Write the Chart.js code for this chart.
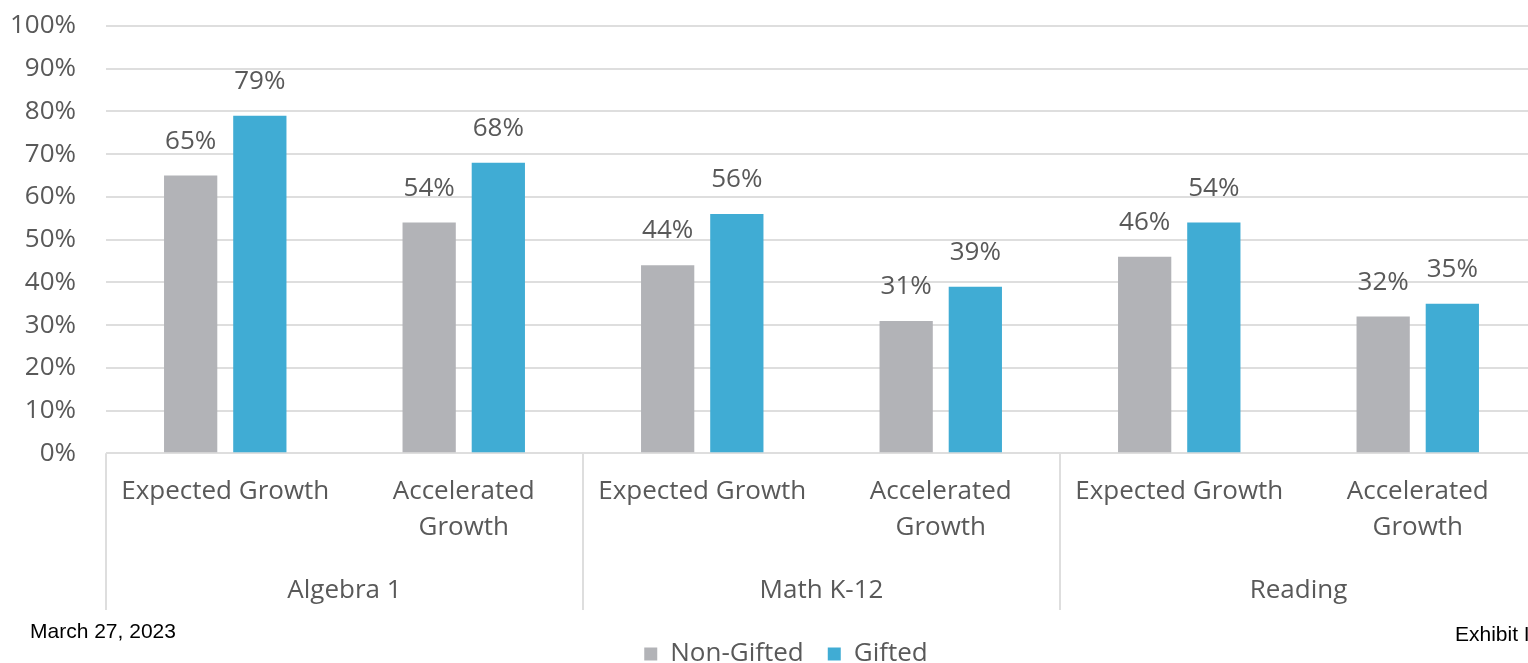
<!DOCTYPE html>
<html>
<head>
<meta charset="utf-8">
<script src="https://cdn.jsdelivr.net/npm/chart.js@4/dist/chart.umd.min.js"></script>
<style>
  html, body { margin: 0; padding: 0; background: #fff; overflow: hidden; }
  #wrap { position: relative; width: 1565px; height: 663px; }
  .note { position: absolute; font-family: "Liberation Sans", Arial, sans-serif; font-size: 21px; color: #000; }
</style>
</head>
<body>
<div id="wrap">
  <canvas id="canvas" width="1565" height="663"></canvas>
  <div class="note" style="left:30px; top:619px;">March 27, 2023</div>
  <div class="note" style="left:1455px; top:622px;">Exhibit I</div>
</div>
<script>
const categories = ['Expected Growth', ['Accelerated', 'Growth'], 'Expected Growth', ['Accelerated', 'Growth'], 'Expected Growth', ['Accelerated', 'Growth']];
const groups = ['Algebra 1', 'Math K-12', 'Reading'];
const nonGifted = [65, 54, 44, 31, 46, 32];
const gifted = [79, 68, 56, 39, 54, 35];

const textColor = '#595959';
const gridColor = '#dedede';
const font = { family: '"Open Sans", sans-serif', size: 26, lineHeight: 1.38 };

// value labels above each bar
const barLabels = {
  id: 'barLabels',
  afterDatasetsDraw(chart) {
    const ctx = chart.ctx;
    ctx.save();
    ctx.font = '26px "Open Sans", sans-serif';
    ctx.fillStyle = textColor;
    ctx.textAlign = 'center';
    ctx.textBaseline = 'alphabetic';
    chart.data.datasets.forEach((ds, i) => {
      chart.getDatasetMeta(i).data.forEach((bar, j) => {
        ctx.fillText(ds.data[j] + '%', bar.x, bar.y - 27);
      });
    });
    ctx.restore();
  }
};

// vertical separators between the subject groups
const groupLines = {
  id: 'groupLines',
  afterDraw(chart) {
    const x = chart.scales.x;
    const half = (x.getPixelForValue(1) - x.getPixelForValue(0)) / 2;
    const ctx = chart.ctx;
    ctx.save();
    ctx.strokeStyle = gridColor;
    ctx.lineWidth = 2;
    for (let g = 0; g <= groups.length; g++) {
      const px = Math.round(x.getPixelForValue(g * 2) - half);
      ctx.beginPath();
      ctx.moveTo(px, chart.chartArea.bottom);
      ctx.lineTo(px, 610);
      ctx.stroke();
    }
    ctx.restore();
  }
};

new Chart(document.getElementById('canvas'), {
  type: 'bar',
  data: {
    labels: categories,
    datasets: [
      { label: 'Non-Gifted', data: nonGifted, backgroundColor: '#b2b3b7', xAxisID: 'x', yAxisID: 'y' },
      { label: 'Gifted', data: gifted, backgroundColor: '#40acd4', xAxisID: 'x', yAxisID: 'y' }
    ]
  },
  options: {
    responsive: false,
    animation: false,
    layout: { padding: { top: 26, left: 10, right: 3, bottom: -14 } },
    barPercentage: 0.77,
    categoryPercentage: 0.58,
    plugins: {
      legend: {
        position: 'bottom',
        labels: {
          boxWidth: 13,
          boxHeight: 13,
          padding: 24,
          color: textColor,
          font: { family: '"Open Sans", sans-serif', size: 26 }
        }
      },
      tooltip: { enabled: false }
    },
    scales: {
      y: {
        min: 0,
        max: 100,
        afterFit(scale) { scale.width = 96; },
        ticks: { stepSize: 10, autoSkip: false, color: textColor, font: font, padding: 0, callback: v => v + '%' },
        grid: { color: gridColor, lineWidth: 2, drawTicks: true, tickLength: 30, tickColor: 'rgba(0,0,0,0)' },
        border: { display: false }
      },
      // empty right margin so the legend centres like the original
      yr: {
        position: 'right',
        min: 0,
        max: 100,
        afterFit(scale) { scale.width = 25; },
        ticks: { display: false },
        grid: { display: false, drawTicks: false },
        border: { display: false }
      },
      x: {
        ticks: { color: textColor, font: font, padding: 20, maxRotation: 0, autoSkip: false },
        grid: { display: false, drawTicks: false },
        border: { display: false }
      },
      x2: {
        type: 'category',
        position: 'bottom',
        labels: groups,
        offset: true,
        ticks: { color: textColor, font: font, padding: 8, maxRotation: 0, autoSkip: false },
        grid: { display: false, drawTicks: false },
        border: { display: false }
      }
    }
  },
  plugins: [barLabels, groupLines]
});
</script>
</body>
</html>
